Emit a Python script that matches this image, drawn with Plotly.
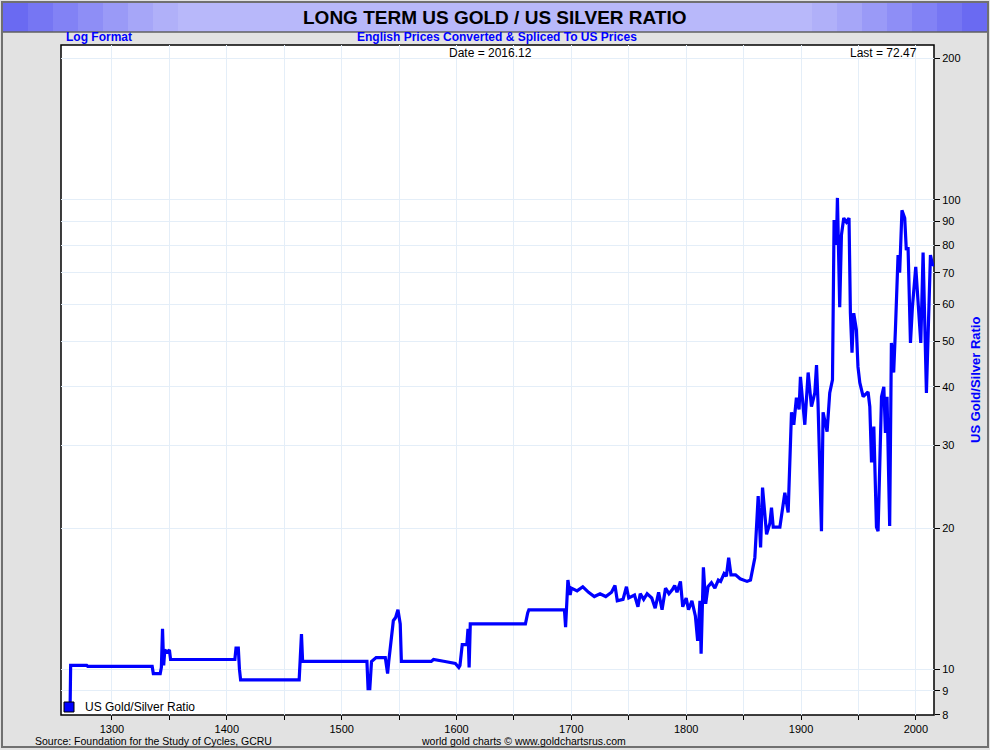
import plotly.graph_objects as go

years = [1262, 1263.5, 1264, 1278, 1279, 1335, 1336, 1342, 1343, 1344, 1345, 1346, 1348, 1350, 1351,
         1407, 1408, 1410, 1411, 1412, 1463, 1464, 1465, 1466, 1522, 1523, 1524.5, 1526, 1530, 1538, 1540,
         1541, 1545, 1547, 1549, 1551, 1552, 1578, 1580, 1590, 1599, 1602, 1603, 1605, 1609, 1610,
         1611, 1612, 1660, 1662, 1663, 1694, 1695, 1697, 1699, 1700, 1705, 1710, 1715, 1720, 1725,
         1730, 1735, 1738, 1740, 1745, 1748, 1750, 1755, 1758, 1760, 1763, 1766, 1770, 1773, 1776,
         1779, 1782, 1785, 1788, 1790, 1792, 1795, 1797, 1800, 1802, 1805, 1808, 1810, 1812, 1813,
         1815, 1817, 1819, 1822, 1825, 1828, 1830, 1833, 1835, 1837, 1839, 1843, 1847, 1850, 1853,
         1856, 1859.8, 1862.7, 1864.8, 1866.5, 1870, 1872.9, 1874.3, 1875.8, 1881.6, 1885.9, 1888.8,
         1891.7, 1893.7, 1896, 1898.3, 1899.5, 1903.3, 1906.2, 1909.1, 1912, 1913.5, 1914.8, 1916.4,
         1917.8, 1919.2, 1922.7, 1925, 1927.4, 1928.8, 1930.8, 1931.7, 1932.8, 1933.7, 1935.2, 1937.2,
         1939.5, 1941.8, 1943, 1944.4, 1945.9, 1948.2, 1949.6, 1951.2, 1954.1, 1958.4, 1959.9, 1961.4,
         1963.4, 1964.3, 1965.7, 1967.1, 1970.1, 1972.1, 1973.5, 1974.9, 1975.8, 1977.2, 1978.7,
         1980.7, 1982.2, 1984.5, 1985.9, 1987.9, 1990.3, 1991.7, 1993.2, 1995.3, 1997, 1999.9, 2004.3,
         2006.3, 2009.2, 2012.7, 2014.4, 2016.12]
ratio = [8.2, 8.2, 10.2, 10.2, 10.15, 10.15, 9.8, 9.8, 10.1, 12.2, 10.2, 11.0, 10.9, 11.0, 10.5,
         10.5, 11.1, 11.1, 10.0, 9.5, 9.5, 10.4, 11.9, 10.4, 10.4, 9.1, 9.1, 10.4, 10.6, 10.6, 9.8,
         10.4, 12.7, 12.9, 13.4, 12.5, 10.4, 10.4, 10.5, 10.4, 10.3, 10.1, 10.2, 11.3, 11.3, 12.2,
         10.1, 12.5, 12.5, 13.2, 13.4, 13.4, 12.3, 15.5, 14.4, 14.9, 14.7, 15.0, 14.6, 14.3, 14.5,
         14.3, 14.6, 15.1, 14.0, 14.1, 15.0, 14.2, 14.4, 13.6, 14.5, 14.1, 14.5, 14.2, 13.5, 14.6,
         13.4, 14.9, 14.5, 14.8, 15.1, 14.6, 15.4, 13.6, 14.2, 13.4, 14.0, 13.0, 11.5, 14.0, 10.8,
         16.5, 13.8, 15.0, 15.3, 14.9, 15.5, 15.4, 16.0, 15.8, 17.3, 15.9, 15.9, 15.6, 15.5, 15.4,
         15.5, 17.3, 23.4, 18.2, 24.4, 19.4, 20.5, 22.1, 20.1, 20.1, 23.8, 21.6,
         35.3, 33.2, 37.9, 35.8, 42.0, 33.2, 42.9, 36.3, 38.8, 44.5, 37.0, 25.4,
         19.7, 35.3, 32.1, 38.8, 41.4, 90.6, 80.2, 101, 79.4, 59.1, 84.2, 91.5,
         89.7, 91.5, 57.4, 47.3, 57.4, 52.9, 44.1, 40.8, 38.1, 39.0, 36.3, 27.6,
         32.9, 27.0, 20.1, 19.7, 38.1, 40.0, 31.9, 38.1, 31.3, 20.2, 49.6,
         42.9, 52.9, 76.3, 70.0, 95.0, 91.5, 78.2, 79.4, 49.6, 59.1, 72.0, 49.6,
         77.3, 38.8, 76.3, 73.0, 72.47]

x_tickvals = list(range(1300, 2001, 50))
x_ticktext = [str(v) if v % 100 == 0 else "" for v in x_tickvals]
y_tickvals = [8, 9, 10, 20, 30, 40, 50, 60, 70, 80, 90, 100, 200]
y_ticktext = [str(v) for v in y_tickvals]

L, R, T, B = 61, 934, 45, 715
def px(x): return (x - L) / (R - L)
def py(y): return (B - y) / (B - T)

FONT = "Liberation Sans Narrow, Arial Narrow, Liberation Sans, sans-serif"
BLUE = "#0000ff"

fig = go.Figure()
fig.add_trace(go.Scatter(x=years, y=ratio, mode="lines",
                         line=dict(color=BLUE, width=3.2), showlegend=False))

shapes = [
    dict(type="rect", xref="paper", yref="paper", x0=px(2), x1=px(988), y0=py(747), y1=py(2),
         fillcolor="#e2e2e2", line=dict(color="#707070", width=2), layer="below"),
    dict(type="rect", xref="paper", yref="paper", x0=px(3), x1=px(987), y0=py(32), y1=py(3),
         fillcolor="#b8b8fa", line=dict(width=0), layer="below"),
]
grad = ["#6a6af2", "#7676f3", "#8282f5", "#8e8ef6", "#9a9af7", "#a6a6f8", "#b0b0f9"]
w = 25
for i, c in enumerate(grad):
    shapes.append(dict(type="rect", xref="paper", yref="paper", x0=px(3 + i * w), x1=px(3 + (i + 1) * w),
                       y0=py(32), y1=py(3), fillcolor=c, line=dict(width=0), layer="below"))
    shapes.append(dict(type="rect", xref="paper", yref="paper", x0=px(987 - (i + 1) * w), x1=px(987 - i * w),
                       y0=py(32), y1=py(3), fillcolor=c, line=dict(width=0), layer="below"))
shapes += [
    dict(type="line", xref="paper", yref="paper", x0=px(3), x1=px(987), y0=py(32), y1=py(32),
         line=dict(color="#606060", width=1.5), layer="below"),
    dict(type="rect", xref="paper", yref="paper", x0=0, x1=1, y0=0, y1=1,
         fillcolor="white", line=dict(color="black", width=1.5), layer="below"),
    dict(type="rect", xref="paper", yref="paper", x0=px(64), x1=px(74), y0=py(712), y1=py(702),
         fillcolor=BLUE, line=dict(color="black", width=1)),
]

def ann(text, x, y, size, color="black", bold=False, xanchor="center", angle=0):
    return dict(text=f"<b>{text}</b>" if bold else text, x=px(x), y=py(y), xref="paper", yref="paper",
                showarrow=False, xanchor=xanchor, yanchor="middle", textangle=angle,
                font=dict(family=FONT, size=size, color=color))

annotations = [
    ann("LONG TERM US GOLD / US SILVER RATIO", 495, 17, 19, bold=True),
    ann("Log Format", 64, 37, 12, BLUE, bold=True, xanchor="left"),
    ann("English Prices Converted &amp; Spliced To US Prices", 497, 37, 12, BLUE, bold=True),
    ann("Date = 2016.12", 490, 53, 12),
    ann("Last = 72.47", 919, 53, 12, xanchor="right"),
    ann("US Gold/Silver Ratio", 83, 707, 12, xanchor="left"),
    ann("Source: Foundation for the Study of Cycles, GCRU", 33, 741, 10.5, xanchor="left"),
    ann("world gold charts © www.goldchartsrus.com", 523, 741, 10.5),
    ann("US Gold/Silver Ratio", 975, 380, 13, BLUE, bold=True, angle=-90),
]

fig.update_layout(
    width=990, height=750,
    margin=dict(l=L, r=990 - R, t=T, b=750 - B),
    paper_bgcolor="#e2e2e2", plot_bgcolor="rgba(0,0,0,0)",
    shapes=shapes, annotations=annotations,
    font=dict(family=FONT, size=12, color="black"),
    xaxis=dict(range=[1255.6, 2015.8], tickvals=x_tickvals, ticktext=x_ticktext,
               showgrid=True, gridcolor="#e4eef8", ticks="outside", ticklen=4, tickcolor="black",
               zeroline=False, showline=False, tickfont=dict(size=11)),
    yaxis=dict(type="log", range=[0.903, 2.33], side="right", tickvals=y_tickvals, ticktext=y_ticktext,
               showgrid=True, gridcolor="#e4eef8", ticks="outside", ticklen=5, tickcolor="black",
               zeroline=False, showline=False, tickfont=dict(size=11)),
)

fig.write_html("out.html", config={"displayModeBar": False},
               post_script="document.body.style.margin='0';document.body.style.overflow='hidden';")
